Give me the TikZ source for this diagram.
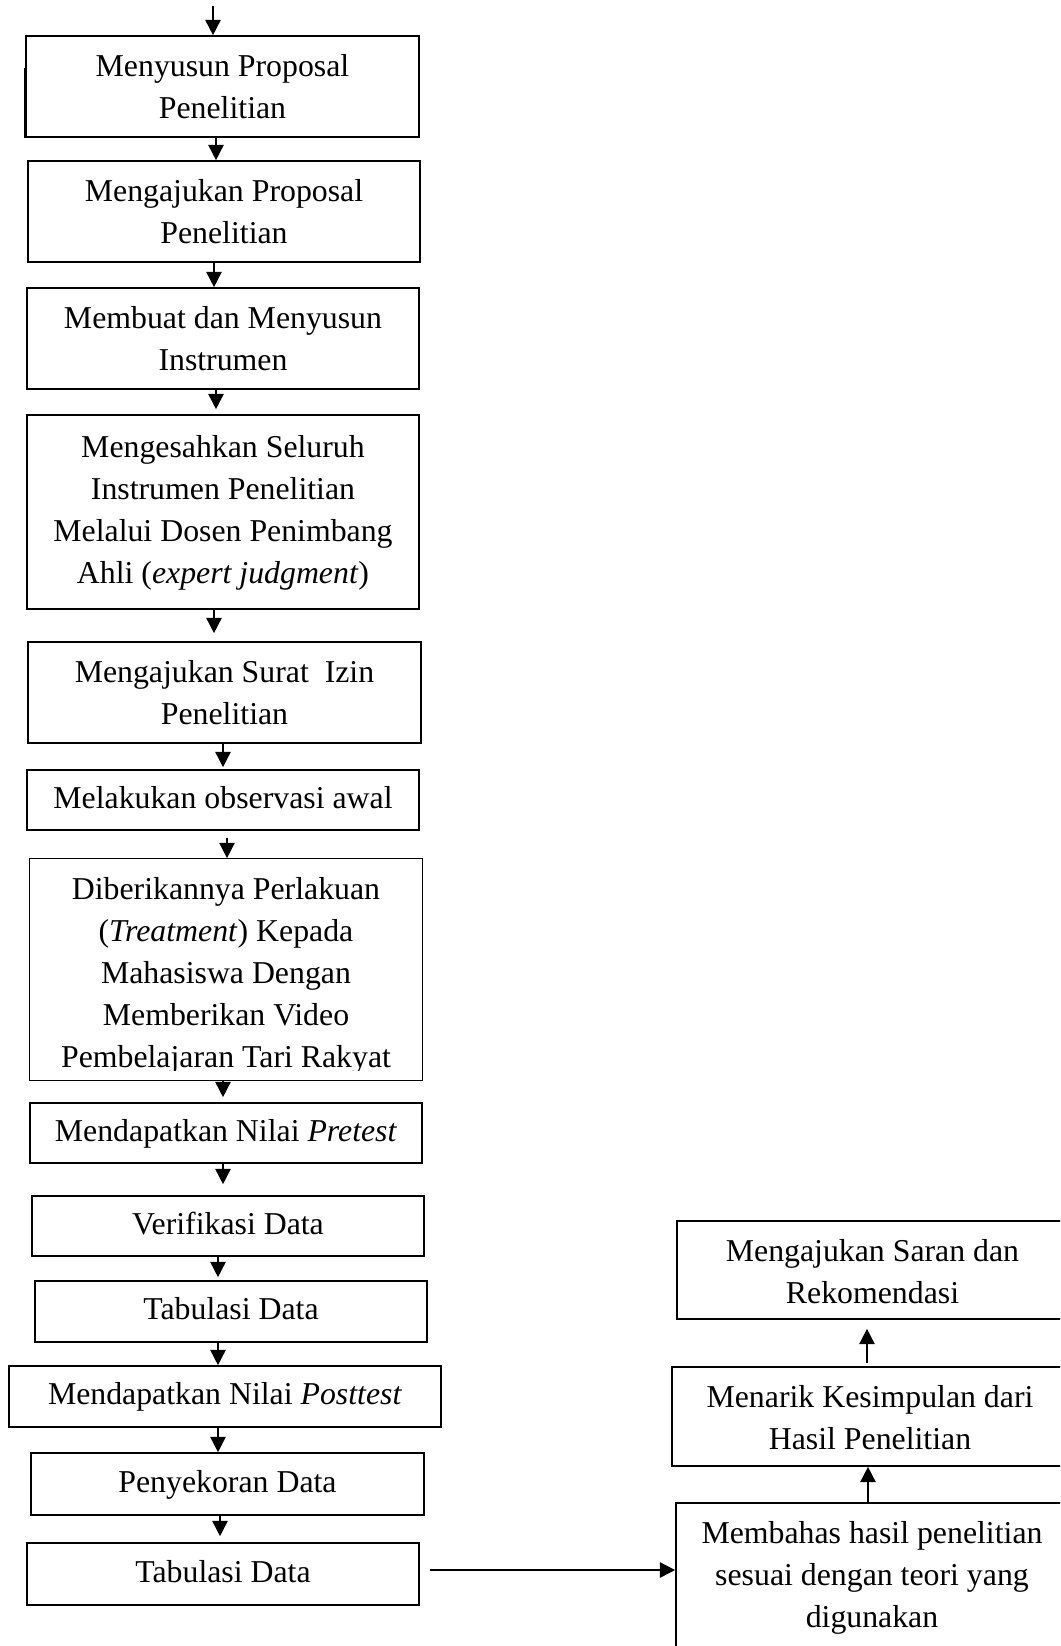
\documentclass[tikz,border=0pt]{standalone}
\usepackage{fontspec}
\setmainfont{Liberation Serif}
\usetikzlibrary{arrows.meta}
\newcommand\lowstrut{\rule[-0.94mm]{0pt}{4.15mm}}
\newcommand\lowerstrut{\rule[-0.84mm]{0pt}{4.15mm}}
\begin{document}
\begin{tikzpicture}[x=0.1mm,y=-0.1mm,
  box/.style={draw, line width=0.4pt, inner sep=0pt, align=center,
    font=\fontsize{9.05pt}{11.95pt}\selectfont},
  arr/.style={line width=0.8pt, -{Triangle[width=1.5mm,length=1.55mm]}}]
\useasboundingbox (0,0) rectangle (1060,1646);
\clip (0,0) rectangle (1060,1646);

% left column
\node[box, minimum width=39.3mm, minimum height=10.1mm] (b1) at (222.5,86.5)
  {\lowstrut Menyusun Proposal\\\lowstrut Penelitian};
\node[box, minimum width=39.2mm, minimum height=10.1mm] (b2) at (224,211.5)
  {\lowstrut Mengajukan Proposal\\\lowstrut Penelitian};
\node[box, minimum width=39.2mm, minimum height=10.1mm] (b3) at (223,338.5)
  {\lowstrut Membuat dan Menyusun\\\lowstrut Instrumen};
\node[box, minimum width=39.2mm, minimum height=19.4mm] (b4) at (223,512)
  {\strut Mengesahkan Seluruh\\\strut Instrumen Penelitian\\\strut Melalui Dosen Penimbang\\\strut Ahli (\textit{expert judgment})};
\node[box, minimum width=39.3mm, minimum height=10.1mm] (b5) at (224.5,692.5)
  {\lowstrut Mengajukan Surat~ Izin\\\lowstrut Penelitian};
\node[box, minimum width=39.2mm, minimum height=6.0mm] (b6) at (223,800)
  {\strut Melakukan observasi awal};
\begin{scope}
  \clip (0,859) rectangle (1060,1070);
  \node[box, draw=none, minimum width=39.2mm, minimum height=22.1mm] (b7) at (226,969.5)
    {\rule{0pt}{4.05mm}Diberikannya Perlakuan\\\strut (\textit{Treatment}) Kepada\\\strut Mahasiswa Dengan\\\strut Memberikan Video\\\strut Pembelajaran Tari Rakyat};
\end{scope}
\draw[line width=0.4pt] (b7.north west) rectangle (b7.south east);
\node[box, minimum width=39.2mm, minimum height=6.0mm] (b8) at (226,1133)
  {\strut Mendapatkan Nilai \textit{Pretest}};
\node[box, minimum width=39.2mm, minimum height=6.0mm] (b9) at (228,1226)
  {\strut Verifikasi Data};
\node[box, minimum width=39.2mm, minimum height=6.1mm] (b10) at (231,1311.5)
  {\strut Tabulasi Data};
\node[box, minimum width=43.2mm, minimum height=6.1mm] (b11) at (225,1396.5)
  {\strut Mendapatkan Nilai \textit{Posttest}};
\node[box, minimum width=39.3mm, minimum height=6.2mm] (b12) at (227.5,1484)
  {\strut Penyekoran Data};
\node[box, minimum width=39.2mm, minimum height=6.2mm] (b13) at (223,1574)
  {\strut Tabulasi Data};
\draw[line width=0.4pt] ([xshift=-0.1mm]b1.south west) -- ++(0,-70);

% right column
\node[box, minimum width=39.1mm, minimum height=9.8mm] (r1) at (872.5,1270)
  {\lowerstrut Mengajukan Saran dan\\\lowerstrut Rekomendasi};
\node[box, minimum width=39.6mm, minimum height=9.9mm] (r2) at (870,1416.5)
  {\lowerstrut Menarik Kesimpulan dari\\\lowerstrut Hasil Penelitian};
\node[box, minimum width=39.2mm, minimum height=14.72mm] (r3) at (872,1576.6)
  {\strut Membahas hasil penelitian\\\strut sesuai dengan teori yang\\\strut digunakan};

% connectors
\coordinate (s0) at (213,6);
\draw[arr] (s0) -- (s0 |- b1.north);
\coordinate (x12) at (216,0);
\draw[arr] (b1.south -| x12) -- (b2.north -| x12);
\coordinate (x23) at (214,0);
\draw[arr] (b2.south -| x23) -- (b3.north -| x23);
\coordinate (x34) at (216,0);
\draw[arr, shorten >=0.5mm] (b3.south -| x34) -- (b4.north -| x34);
\coordinate (x45) at (214,0);
\draw[arr, shorten >=0.8mm] (b4.south -| x45) -- (b5.north -| x45);
\coordinate (x56) at (223,0);
\draw[arr, shorten >=0.2mm] (b5.south -| x56) -- (b6.north -| x56);
\coordinate (x67) at (227,0);
\draw[arr, shorten <=0.7mm] (b6.south -| x67) -- (b7.north -| x67);
\coordinate (x78) at (223,0);
\draw[arr, shorten >=0.5mm] (b7.south -| x78) -- (b8.north -| x78);
\coordinate (x89) at (223,0);
\draw[arr, shorten >=1.1mm] (b8.south -| x89) -- (b9.north -| x89);
\coordinate (x910) at (218,0);
\draw[arr, shorten >=0.3mm] (b9.south -| x910) -- (b10.north -| x910);
\coordinate (x1011) at (218,0);
\draw[arr] (b10.south -| x1011) -- (b11.north -| x1011);
\coordinate (x1112) at (218,0);
\draw[arr] (b11.south -| x1112) -- (b12.north -| x1112);
\coordinate (x1213) at (220,0);
\draw[arr, shorten >=0.6mm] (b12.south -| x1213) -- (b13.north -| x1213);
\coordinate (yh) at (0,1570);
\draw[arr, shorten <=1mm] (b13.east |- yh) -- (r3.west |- yh);
\coordinate (xr32) at (868,0);
\draw[arr] (r3.north -| xr32) -- (r2.south -| xr32);
\coordinate (xr21) at (867,0);
\draw[arr, shorten <=0.3mm, shorten >=0.9mm] (r2.north -| xr21) -- (r1.south -| xr21);
\end{tikzpicture}
\end{document}
